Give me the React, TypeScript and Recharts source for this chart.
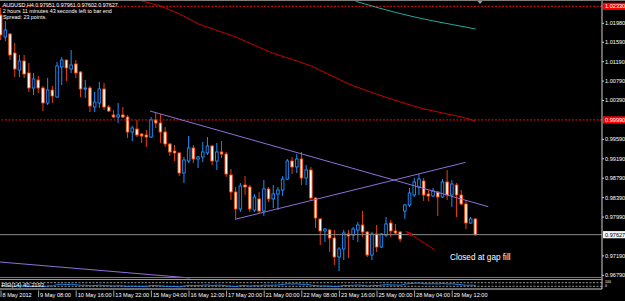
import React from "react";
import {
  Bar,
  ComposedChart,
  Line,
  ReferenceDot,
  ReferenceLine,
  XAxis,
  YAxis,
} from "recharts";

// AUDUSD H4, bar 0 = 8 May 2012 00:00 ... bar 101 = 30 May 2012 08:00
const opens = [
  1.02151, 1.01698, 1.0176, 1.01368, 1.01018, 1.01204, 1.00957, 1.00648, 1.00812, 1.00648,
  1.00339, 1.00606, 1.00462, 1.0108, 1.01224, 1.01039, 1.01142, 1.00977, 1.00627, 1.00648,
  1.00256, 1.00339, 1.00627, 1.00256, 1.00092, 1.0005, 1.00092, 1.0005, 0.99741, 0.99803,
  0.997, 0.9968, 0.99638, 0.99989, 0.99927, 0.99741, 0.99494, 0.9935, 0.99309, 0.98897,
  0.99144, 0.99412, 0.99185, 0.99227, 0.99309, 0.99453, 0.99144, 0.9933, 0.99288, 0.98856,
  0.98506, 0.98156, 0.9865, 0.98609, 0.98135, 0.98362, 0.98114, 0.98568, 0.98362, 0.98465,
  0.98547, 0.98773, 0.99144, 0.99021, 0.99185, 0.98794, 0.98959, 0.98382, 0.9795, 0.97703,
  0.97723, 0.97558, 0.97167, 0.97332, 0.97641, 0.9762, 0.97723, 0.97826, 0.97682, 0.97208,
  0.97641, 0.97373, 0.9762, 0.97867, 0.97703, 0.97682, 0.98114, 0.98238, 0.98444, 0.98609,
  0.98732, 0.98465, 0.98423, 0.98506, 0.98403, 0.98712, 0.98444, 0.9865, 0.98444, 0.98259,
  0.97867, 0.97951,
];
const highs = [
  1.02295, 1.02028, 1.0178, 1.01574, 1.01327, 1.01327, 1.01163, 1.00957, 1.00895, 1.00689,
  1.00854, 1.00689, 1.01183, 1.01286, 1.01224, 1.0143, 1.01224, 1.00998, 1.00812, 1.00689,
  1.00565, 1.00771, 1.00751, 1.00298, 1.00195, 1.00339, 1.00256, 1.00092, 0.99865, 0.99989,
  0.99721, 0.99783, 1.0005, 1.00133, 1.00112, 0.99844, 0.99515, 0.99474, 0.9933, 0.99227,
  0.99659, 0.99474, 0.99247, 0.99536, 0.99638, 0.99474, 0.99515, 0.99556, 0.9933, 0.98979,
  0.98609, 0.98691, 0.98835, 0.9865, 0.98465, 0.98506, 0.98753, 0.98609, 0.9865, 0.98609,
  0.98835, 0.99185, 0.99227, 0.99288, 0.9933, 0.99062, 0.99021, 0.98403, 0.9797, 0.97764,
  0.97744, 0.97723, 0.97373, 0.97723, 0.97723, 0.97785, 0.97888, 0.98114, 0.97703, 0.97682,
  0.97826, 0.97661, 0.97991, 0.97929, 0.97847, 0.97703, 0.98259, 0.98588, 0.98794, 0.98876,
  0.98794, 0.98547, 0.98588, 0.98526, 0.98773, 0.98959, 0.98753, 0.98691, 0.98547, 0.98341,
  0.97991, 0.97961,
];
const lows = [
  1.01636, 1.01616, 1.01224, 1.00874, 1.00874, 1.00854, 1.00565, 1.00503, 1.00545, 1.00174,
  1.00298, 1.00339, 1.00442, 1.00709, 1.00792, 1.00957, 1.00854, 1.00462, 1.00442, 1.00153,
  1.00153, 1.00236, 1.00195, 1.00153, 1.0003, 0.99927, 1.0003, 0.99618, 0.99556, 0.99638,
  0.99515, 0.99433, 0.99618, 0.99824, 0.99515, 0.99433, 0.99247, 0.99144, 0.98835, 0.98691,
  0.99103, 0.99103, 0.99, 0.99124, 0.99268, 0.99062, 0.98959, 0.99206, 0.98815, 0.98341,
  0.9795, 0.98094, 0.98444, 0.98094, 0.98094, 0.98073, 0.98011, 0.983, 0.98176, 0.98135,
  0.98423, 0.98753, 0.98876, 0.98897, 0.9865, 0.9865, 0.98341, 0.97764, 0.97414, 0.97476,
  0.9727, 0.97002, 0.96879, 0.97105, 0.97146, 0.97517, 0.97476, 0.97579, 0.97167, 0.97105,
  0.9727, 0.97352, 0.97579, 0.97579, 0.97641, 0.97476, 0.9795, 0.98197, 0.98403, 0.98444,
  0.9832, 0.9832, 0.98403, 0.98011, 0.98382, 0.98341, 0.98197, 0.97991, 0.98238, 0.97744,
  0.97847, 0.97602,
];
const closes = [
  1.01739, 1.01842, 1.01327, 1.01039, 1.01204, 1.00936, 1.00648, 1.00833, 1.00648, 1.00339,
  1.00606, 1.00483, 1.01101, 1.01224, 1.0106, 1.01121, 1.00957, 1.00627, 1.00648, 1.00277,
  1.00359, 1.00627, 1.00256, 1.00174, 1.0005, 1.00092, 1.0005, 0.99741, 0.99824, 0.9968,
  0.99659, 0.99638, 0.99989, 0.99927, 0.99741, 0.99494, 0.9933, 0.99309, 0.98897, 0.99165,
  0.99412, 0.99185, 0.99227, 0.9933, 0.99453, 0.99144, 0.9933, 0.99288, 0.98876, 0.98506,
  0.98156, 0.98629, 0.98609, 0.98156, 0.98403, 0.98114, 0.98568, 0.98362, 0.98465, 0.98547,
  0.98773, 0.99144, 0.99021, 0.99185, 0.98794, 0.98959, 0.98382, 0.9797, 0.97703, 0.97744,
  0.97558, 0.97167, 0.97332, 0.97661, 0.976, 0.97744, 0.97826, 0.97682, 0.97208, 0.97641,
  0.97373, 0.97641, 0.97847, 0.97703, 0.97661, 0.97538, 0.98238, 0.98485, 0.98712, 0.98773,
  0.98444, 0.98423, 0.98526, 0.98403, 0.98712, 0.98444, 0.98671, 0.98444, 0.98259, 0.97867,
  0.9795, 0.97627,
];
const rsi14 = [
  38, 40, 33, 30, 34, 31, 28, 33, 31, 27, 35, 33, 50, 53, 49, 52, 47, 41, 42, 36,
  38, 44, 37, 36, 34, 36, 34, 29, 32, 30, 29, 29, 40, 38, 34, 30, 28, 28, 24, 33,
  41, 38, 39, 42, 45, 38, 43, 42, 35, 30, 26, 38, 38, 31, 37, 34, 44, 41, 43, 45,
  51, 58, 55, 58, 50, 53, 43, 37, 33, 34, 31, 26, 31, 40, 39, 42, 44, 40, 33, 42,
  38, 44, 49, 45, 44, 42, 55, 60, 64, 66, 58, 57, 59, 56, 62, 55, 58, 52, 48, 41,
  43, 40.2193,
];

// moving averages, read at a few bars
const maRedBars = [28, 30, 34, 38, 42, 46, 50, 54, 58, 62, 66, 70, 74, 78, 82, 86, 90, 94, 98, 101];
const maRedValues = [
  1.02501, 1.02439, 1.02336, 1.02172, 1.01966, 1.01832, 1.01698, 1.01523, 1.01358, 1.01235,
  1.01101, 1.00915, 1.0073, 1.00586, 1.00452, 1.00328, 1.00215, 1.00133, 1.0005, 0.99968,
];
const maTealBars = [74, 76, 80, 84, 88, 92, 96, 101];
const maTealValues = [1.02501, 1.02419, 1.02306, 1.02203, 1.0211, 1.02028, 1.01955, 1.01863];

const timeTicks = [0, 8, 16, 24, 32, 40, 48, 56, 64, 72, 80, 88, 96];
const timeLabels = [
  "8 May 2012", "9 May 08:00", "10 May 16:00", "13 May 22:00", "15 May 04:00",
  "16 May 12:00", "17 May 20:00", "21 May 00:00", "22 May 08:00", "23 May 16:00",
  "25 May 00:00", "28 May 04:00", "29 May 12:00",
];
const priceTicks = [
  1.0198, 1.0159, 1.0119, 1.0079, 1.0039, 0.9959, 0.9919, 0.9879, 0.9839, 0.9799, 0.9719, 0.9679,
];

const FONT = "'Liberation Sans', Arial, sans-serif";
const BULL = "#1e90ff";
const BEAR = "#ff4500";
const BEAR_WICK = "#e8400c";
const TREND = "#8f6fd8";
const AXIS = "#d0d0d0";
const X_DOMAIN = [-0.2128, 127.872];

const bars = opens.map((o, i) => ({
  i,
  o,
  h: highs[i],
  l: lows[i],
  c: closes[i],
  range: [lows[i], highs[i]],
  rsi: rsi14[i],
  maRed: null as number | null,
  maTeal: null as number | null,
}));
maRedBars.forEach((b, k) => (bars[b].maRed = maRedValues[k]));
maTealBars.forEach((b, k) => (bars[b].maTeal = maTealValues[k]));

const last = bars.length - 1;

const Candle = (props: any) => {
  const { x, y, width, height, payload } = props;
  if (!payload || height == null) return null;
  const top = Math.min(y, y + height);
  const span = Math.abs(height);
  const { o, h, l, c } = payload;
  const py = (p: number) => top + ((h - p) / (h - l)) * span;
  const cx = x + width / 2;
  const up = c >= o;
  const bTop = py(Math.max(o, c));
  const bBot = py(Math.min(o, c));
  return (
    <g>
      <line x1={cx} x2={cx} y1={top} y2={top + span} stroke={up ? BULL : BEAR_WICK} strokeWidth={1} />
      <rect
        x={cx - 1.3}
        y={bTop}
        width={2.6}
        height={Math.max(bBot - bTop, 0.6)}
        fill={up ? "#000" : "#fff"}
        stroke={up ? BULL : BEAR}
        strokeWidth={0.9}
      />
    </g>
  );
};

const PriceTag = ({ viewBox, text, bg, fg }: any) => {
  const x = viewBox.x + viewBox.width + 1;
  const y = viewBox.y;
  return (
    <g>
      <rect x={x} y={y - 3.6} width={24} height={7.2} fill={bg} />
      <text x={x + 2} y={y + 2.1} fontSize={5.6} fill={fg} fontFamily={FONT}>
        {text}
      </text>
    </g>
  );
};

const Arrow = (props: any) => {
  const { x1, y1, x2, y2 } = props;
  const dx = x2 - x1;
  const dy = y2 - y1;
  const len = Math.sqrt(dx * dx + dy * dy);
  const ux = dx / len;
  const uy = dy / len;
  const bx = x2 - ux * 8;
  const by = y2 - uy * 8;
  return (
    <g>
      <line x1={x1} y1={y1} x2={bx} y2={by} stroke="#c00000" strokeWidth={1} />
      <polygon
        points={`${x2},${y2} ${bx - uy * 2.2},${by + ux * 2.2} ${bx + uy * 2.2},${by - ux * 2.2}`}
        fill="#c00000"
      />
    </g>
  );
};

const Note = (props: any) => (
  <text x={props.cx} y={props.cy} fontSize={8.2} fill="#fff" fontFamily={FONT}>
    Closed at gap fill
  </text>
);

const TimeTick = ({ x, y, payload }: any) => {
  const label = timeLabels[timeTicks.indexOf(payload.value)];
  return (
    <g>
      <line x1={x} x2={x} y1={y + 1.5} y2={y + 8} stroke={AXIS} strokeWidth={0.8} />
      <text x={x + 1.5} y={y + 8} fontSize={5.6} fill="#fff" fontFamily={FONT}>
        {label}
      </text>
    </g>
  );
};

export default function App() {
  return (
    <div
      style={{
        position: "absolute",
        left: 0,
        top: 0,
        width: 625,
        height: 301,
        background: "#000",
        overflow: "hidden",
      }}
    >
      <ComposedChart width={625} height={279} data={bars} margin={{ top: 0, right: 0, bottom: 0, left: 0 }}>
        <XAxis type="number" dataKey="i" domain={X_DOMAIN} allowDataOverflow hide />
        <YAxis
          orientation="right"
          width={23}
          domain={[0.96714, 1.0246]}
          allowDataOverflow
          ticks={priceTicks}
          interval={0}
          tickFormatter={(v) => Number(v).toFixed(5)}
          tick={{ fill: "#fff", fontSize: 5.6, fontFamily: FONT }}
          tickSize={2}
          tickMargin={1}
          tickLine={{ stroke: AXIS }}
          axisLine={{ stroke: AXIS }}
        />
        <ReferenceLine
          y={1.0233}
          stroke="#ee1111"
          strokeDasharray="2 1.5"
          label={<PriceTag text="1.02330" bg="#ff0000" fg="#fff" />}
        />
        <ReferenceLine
          y={0.9999}
          stroke="#ee1111"
          strokeDasharray="2 1.5"
          label={<PriceTag text="0.99990" bg="#ff0000" fg="#fff" />}
        />
        <ReferenceLine
          y={closes[last]}
          stroke="#8c8c8c"
          label={<PriceTag text={closes[last].toFixed(5)} bg="#f4f4f4" fg="#000" />}
        />
        <Line dataKey="maRed" stroke="#cc0000" strokeWidth={1} dot={false} connectNulls isAnimationActive={false} />
        <Line dataKey="maTeal" stroke="#20aaa4" strokeWidth={1} dot={false} connectNulls isAnimationActive={false} />
        <Bar dataKey="range" barSize={4} shape={<Candle />} isAnimationActive={false} />
        <ReferenceLine
          segment={[{ x: 31.7, y: 1.00174 }, { x: 103.68, y: 0.98203 }]}
          stroke={TREND}
          strokeWidth={1}
        />
        <ReferenceLine
          segment={[{ x: 49.79, y: 0.97943 }, { x: 98.87, y: 0.99117 }]}
          stroke={TREND}
          strokeWidth={1}
        />
        <ReferenceLine
          segment={[{ x: -0.21, y: 0.97064 }, { x: 40.2, y: 0.96735 }]}
          stroke={TREND}
          strokeWidth={1}
        />
        <ReferenceLine
          segment={[{ x: 92.34, y: 0.97311 }, { x: 85.96, y: 0.97709 }]}
          shape={Arrow}
        />
        <ReferenceDot x={95.53} y={0.97105} r={0} shape={Note} />
      </ComposedChart>

      <div style={{ position: "absolute", left: 0, top: 279 }}>
        <ComposedChart width={625} height={22} data={bars} margin={{ top: 1, right: 0, bottom: 0, left: 0 }}>
          <XAxis
            type="number"
            dataKey="i"
            domain={X_DOMAIN}
            allowDataOverflow
            ticks={timeTicks}
            interval={0}
            height={12}
            tickSize={0}
            tickMargin={0}
            tickLine={false}
            tick={<TimeTick />}
            axisLine={{ stroke: AXIS }}
          />
          <YAxis orientation="right" width={23} domain={[0, 100]} tick={false} tickLine={false} axisLine={{ stroke: AXIS }} />
          <ReferenceLine y={70} stroke="#bdbdbd" strokeDasharray="2 1.5" strokeWidth={0.8} />
          <ReferenceLine y={30} stroke="#bdbdbd" strokeDasharray="2 1.5" strokeWidth={0.8} />
          <Line dataKey="rsi" stroke={BULL} strokeWidth={0.9} dot={false} isAnimationActive={false} />
        </ComposedChart>
      </div>

      <svg
        width={625}
        height={301}
        style={{ position: "absolute", left: 0, top: 0, pointerEvents: "none" }}
        fontFamily={FONT}
      >
        <line x1={0} x2={625} y1={0.5} y2={0.5} stroke="#7f7f7f" />
        <polygon points="477.5,1 482.5,1 480,4" fill="#9a9a9a" />
        <line x1={0} x2={603} y1={277.5} y2={277.5} stroke="#7a7a7a" />
        <line x1={0} x2={603} y1={279.5} y2={279.5} stroke="#9a9a9a" />
        <g fill="#fff" fontSize={5.4} style={{ whiteSpace: "pre" }}>
          <text x={2.7} y={7}>
            {`AUDUSD,H4  ${opens[last].toFixed(5)} ${highs[last].toFixed(5)} ${lows[last].toFixed(5)} ${closes[last].toFixed(5)}`}
          </text>
          <text x={2.7} y={13.2}>2 hours 11 minutes 43 seconds left to bar end</text>
          <text x={3} y={18.6}>Spread: 23 points.</text>
          <text x={1.5} y={287} fontSize={5.8}>{`RSI(14) ${rsi14[last].toFixed(4)}`}</text>
          <text x={605} y={283} fontSize={3.6}>100</text>
          <text x={605} y={286.8} fontSize={3.6}>0</text>
        </g>
      </svg>
    </div>
  );
}
